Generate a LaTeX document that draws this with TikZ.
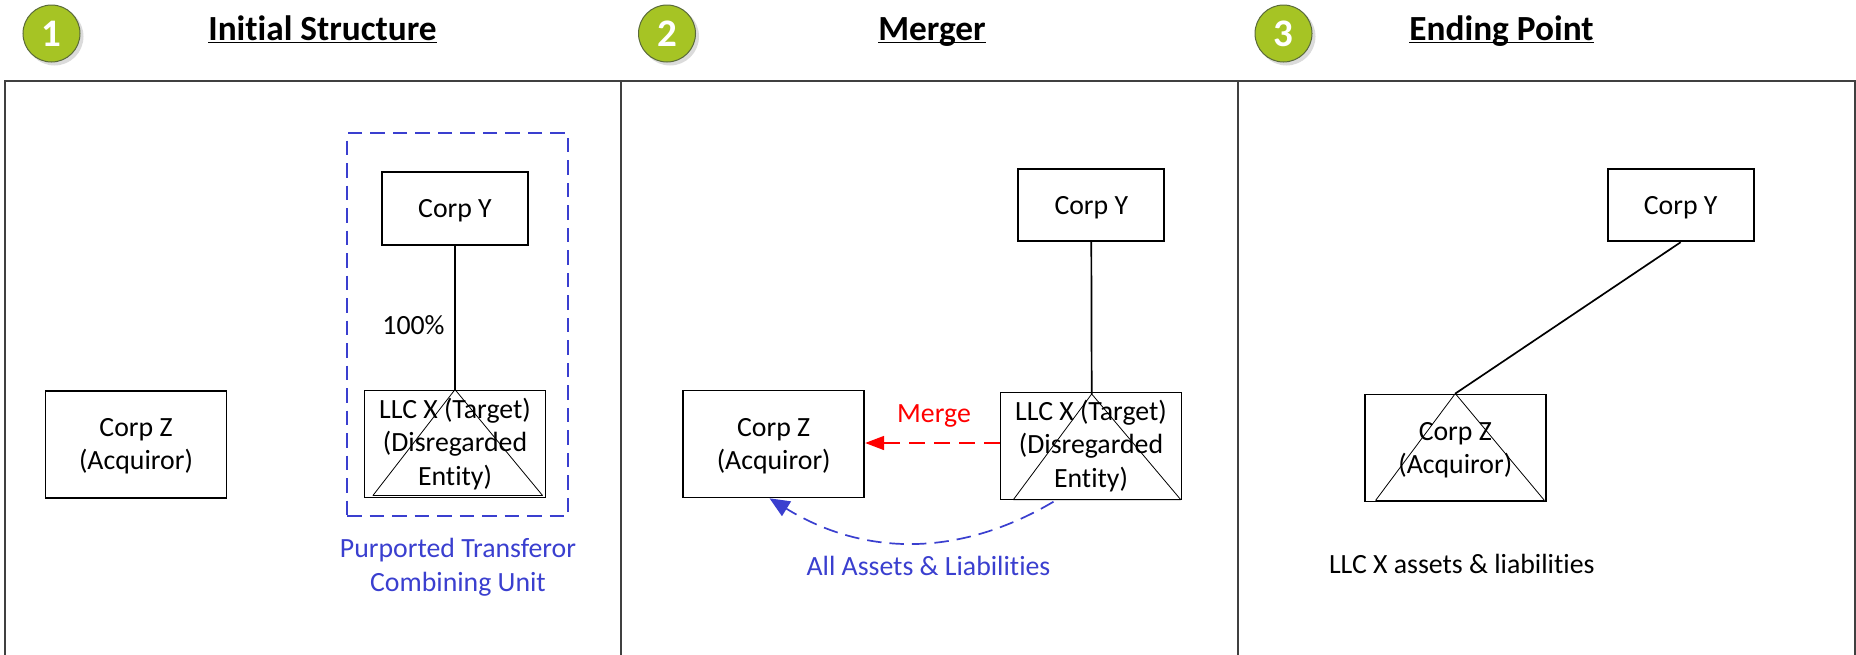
\documentclass[tikz,border=0pt]{standalone}
\usepackage{fontspec}
\setmainfont[Ligatures=NoCommon]{Carlito}
\usetikzlibrary{arrows.meta}
\definecolor{bluec}{HTML}{3A3FCF}
\definecolor{greenc}{HTML}{A6C424}
\definecolor{greenb}{HTML}{5A6A3A}
\definecolor{framec}{HTML}{404040}
\newcommand{\ulttl}[1]{\sbox0{#1}\rlap{\rule[-3.4pt]{\wd0}{1.7pt}}\usebox0}
\newcommand{\lowr}[2][2.5pt]{\raisebox{-#1}[\height][\depth]{\begin{tabular}{@{}c@{}}#2\end{tabular}}}
\tikzset{
  x=1pt,y=-1pt,
  txt/.style={font=\fontsize{27.8}{33.5}\selectfont,align=center,inner sep=0pt,text=black},
  entity/.style={txt,draw=black,line width=1.9pt,minimum width=181pt,minimum height=107pt},
  parent/.style={txt,draw=black,line width=1.9pt,minimum width=146pt,minimum height=72.5pt},
  framebox/.style={draw=framec,line width=2.2pt,anchor=north west,minimum height=600pt,inner sep=0pt},
  ownline/.style={draw=black,line width=1.7pt},
  cross/.style={draw=black,line width=0.8pt,line join=round},
  ttl/.style={font=\fontsize{35.3}{40}\selectfont\bfseries,anchor=base,inner sep=0pt,text=black},
  badge/.style={circle,draw=greenb,line width=1pt,fill=greenc,minimum size=57pt,inner sep=0pt,text=white,font=\fontsize{39}{40}\selectfont\bfseries},
  badgeshadow/.style={circle,fill=black!14,minimum size=58pt,inner sep=0pt},
  bluetxt/.style={txt,text=bluec},
  redtxt/.style={txt,text=red},
  bluedash/.style={draw=bluec,line width=1.7pt,dash pattern=on 14.5pt off 8pt},
}
\begin{document}
\begin{tikzpicture}
\useasboundingbox (0,0) rectangle (1856,654);
\begin{scope}
\clip (0,0) rectangle (1856,654);
% panels
\node[framebox,minimum width=616.5pt] (p1) at (3.5,80) {};
\node[framebox,minimum width=617pt] (p2) at (620,80) {};
\node[framebox,minimum width=616.7pt] (p3) at (1237,80) {};
\end{scope}
% badges
\node[badgeshadow] (s1) at (54.5,36.5) {};
\node[badgeshadow] (s2) at (670,36.5) {};
\node[badgeshadow] (s3) at (1286.5,36.5) {};
\node[badge] (b1) at (51.5,33.5) {1};
\node[badge] (b2) at (667,33.5) {2};
\node[badge] (b3) at (1283.5,33.5) {3};
% titles
\node[ttl] (t1) at (322.5,40) {\ulttl{Initial Structure}};
\node[ttl] (t2) at (932,40) {\ulttl{Merger}};
\node[ttl] (t3) at (1501.5,40) {\ulttl{Ending Point}};
% panel 1
\node[bluedash,minimum width=221pt,minimum height=383pt,inner sep=0pt] (unit) at (457.5,324.5) {};
\node[parent] (y1) at (455,208.5) {\lowr{Corp Y}};
\node[entity] (x1) at (455,444) {\lowr[0.8pt]{LLC X (Target)\\(Disregarded\\Entity)}};
\node[entity] (z1) at (136,444.5) {\lowr[1.7pt]{Corp Z\\(Acquiror)}};
\coordinate (a1) at (x1.north);
\coordinate (l1) at (373,495.4);
\coordinate (r1) at (542.5,495.4);
\draw[cross] (a1) -- (l1) -- (r1) -- cycle;
\draw[ownline] (y1.south) -- (x1.north);
\node[txt] (pct) at (413.5,325) {100\%};
\node[bluetxt] (cu) at (458,567) {Purported Transferor\\Combining Unit};
% panel 2
\node[parent] (y2) at (1091.3,205) {\lowr{Corp Y}};
\node[entity] (x2) at (1091,446) {\lowr[1pt]{LLC X (Target)\\(Disregarded\\Entity)}};
\node[entity] (z2) at (773.7,444) {\lowr[2.2pt]{Corp Z\\(Acquiror)}};
\coordinate (a2) at (1091.7,394);
\coordinate (l2) at (1013.4,499.6);
\coordinate (r2) at (1180.7,499.6);
\draw[cross] (a2) -- (l2) -- (r2) -- cycle;
\draw[ownline] (y2.south) -- (a2);
\coordinate (ms) at (x2.west |- 0,443);
\coordinate (me) at (z2.east |- 0,443);
\draw[draw=red,line width=1.7pt,dash pattern=on 16pt off 9pt,-{Triangle[length=19pt,width=14pt,fill=red]}] (ms) -- (me);
\node[redtxt] (ml) at (934,416) {Merge};
\coordinate (as) at (1053.5,501.7);
\coordinate (ae) at (769.5,498.3);
\draw[bluedash,-{Triangle[length=20pt,width=17pt,fill=bluec]}] (as) .. controls (960,557) and (865,557) .. (ae);
\node[bluetxt] (al) at (928.5,565.5) {All Assets \& Liabilities};
% panel 3
\node[parent] (y3) at (1680.7,205) {\lowr{Corp Y}};
\node[entity] (z3) at (1455.3,448) {\lowr[2.4pt]{Corp Z\\(Acquiror)}};
\coordinate (a3) at (z3.north);
\coordinate (l3) at (1375.6,500.4);
\coordinate (r3) at (1544.4,500.4);
\draw[cross] (a3) -- (l3) -- (r3) -- cycle;
\draw[ownline] (y3.south) -- (a3);
\node[txt] (lx) at (1461.8,564) {LLC X assets \& liabilities};
\end{tikzpicture}
\end{document}
